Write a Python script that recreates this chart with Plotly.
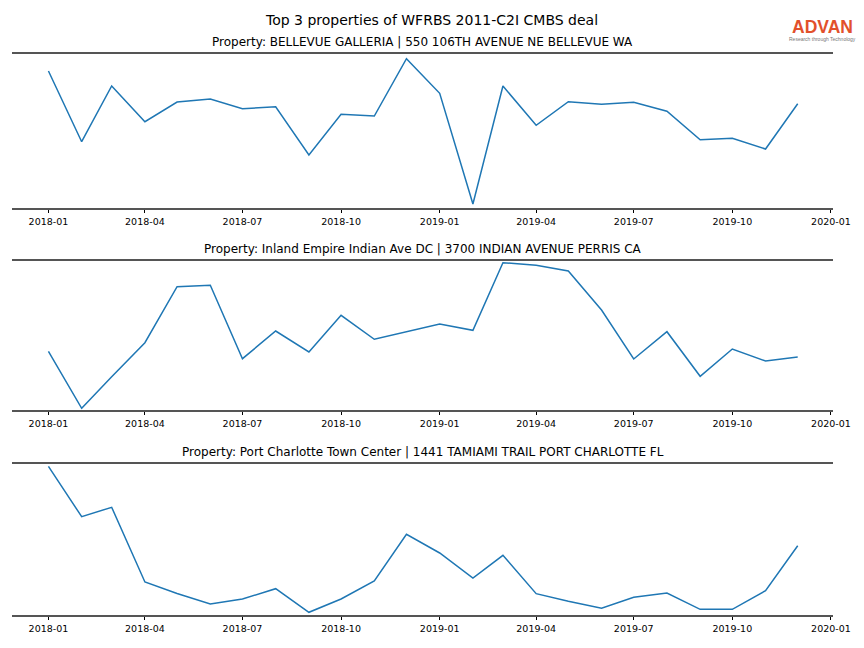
import plotly.graph_objects as go

months = ["2018-01-01", "2018-02-01", "2018-03-01", "2018-04-01", "2018-05-01", "2018-06-01",
          "2018-07-01", "2018-08-01", "2018-09-01", "2018-10-01", "2018-11-01", "2018-12-01",
          "2019-01-01", "2019-02-01", "2019-03-01", "2019-04-01", "2019-05-01", "2019-06-01",
          "2019-07-01", "2019-08-01", "2019-09-01", "2019-10-01", "2019-11-01", "2019-12-01"]

bellevue = [136.8, 66.1, 121.8, 86.1, 105.8, 108.8, 99.1, 101.1, 52.8, 93.5, 91.8, 149.1,
            114.5, 3.8, 121.8, 82.5, 106.1, 103.5, 105.5, 96.5, 68.1, 69.5, 58.8, 104.1]
inland = [58.4, 1.4, 33.0, 67.0, 123.0, 124.4, 51.0, 78.7, 57.7, 94.4, 70.4, 78.2,
          85.7, 79.4, 147.0, 144.4, 138.7, 99.7, 50.7, 78.0, 33.4, 60.7, 48.7, 52.7]
charlotte = [148.4, 98.0, 107.4, 32.7, 21.2, 10.7, 15.7, 26.0, 2.4, 15.7, 33.7, 80.4,
             61.7, 36.7, 59.4, 21.0, 13.4, 6.4, 17.4, 21.7, 5.4, 5.4, 24.0, 69.0]

titles = ["Property: BELLEVUE GALLERIA | 550 106TH AVENUE NE BELLEVUE WA",
          "Property: Inland Empire Indian Ave DC | 3700 INDIAN AVENUE PERRIS CA",
          "Property: Port Charlotte Town Center | 1441 TAMIAMI TRAIL PORT CHARLOTTE FL"]
main_title = "Top 3 properties of WFRBS 2011-C2I CMBS deal"
tick_vals = ["2018-01-01", "2018-04-01", "2018-07-01", "2018-10-01", "2019-01-01",
             "2019-04-01", "2019-07-01", "2019-10-01", "2020-01-01"]
tick_text = ["2018-01", "2018-04", "2018-07", "2018-10", "2019-01",
             "2019-04", "2019-07", "2019-10", "2020-01"]

series = [bellevue, inland, charlotte]
yranges = [[0, 153.8], [0, 149.0], [0, 151.0]]

OFF = 8
W, H = 880, 632
RW = 864  # rendered width


def px_x(x):
    return (x - OFF) / RW


def px_y(y):
    return (H - (y - OFF)) / H


boxes = [(54, 207.8), (260.7, 409.7), (463.7, 614.7)]
xl, xr = px_x(12), px_x(835)

fig = go.Figure()
font_family = "DejaVu Sans"
annotations = []
for i, (vals, (top, bot)) in enumerate(zip(series, boxes)):
    n = "" if i == 0 else str(i + 1)
    fig.add_trace(go.Scatter(x=months, y=vals, mode="lines",
                             line=dict(color="#1f77b4", width=1.5),
                             xaxis="x" + n, yaxis="y" + n, showlegend=False))
    fig.update_layout(**{
        "xaxis" + n: dict(domain=[xl, xr], anchor="y" + n, type="date",
                          range=["2017-11-28", "2020-01-03"],
                          tickvals=tick_vals, ticktext=tick_text,
                          ticks="outside", ticklen=3.5, tickwidth=0.8, tickcolor="#000",
                          showline=True, mirror=True, linecolor="#555555", linewidth=1.8,
                          showgrid=False, zeroline=False,
                          tickfont=dict(family=font_family, size=9.5, color="#000")),
        "yaxis" + n: dict(domain=[px_y(bot), px_y(top)], anchor="x" + n, range=yranges[i],
                          visible=False, showgrid=False, zeroline=False),
    })
    annotations.append(dict(text=titles[i], x=(xl + xr) / 2, y=px_y(top - 12),
                            xref="paper", yref="paper", xanchor="center", yanchor="middle",
                            showarrow=False,
                            font=dict(family=font_family, size=12, color="#000")))

annotations.append(dict(text=main_title, x=px_x(432), y=px_y(20), xref="paper", yref="paper",
                        xanchor="center", yanchor="middle", showarrow=False,
                        font=dict(family=font_family, size=14, color="#000")))
annotations.append(dict(text="<b>ADVAN</b>", x=px_x(824.5), y=px_y(26.5), xref="paper", yref="paper",
                        xanchor="center", yanchor="middle", showarrow=False,
                        font=dict(family="Liberation Sans", size=17.5, color="#E2502B")))
annotations.append(dict(text="Research through Technology", x=px_x(824.5), y=px_y(39),
                        xref="paper", yref="paper", xanchor="center", yanchor="middle",
                        showarrow=False,
                        font=dict(family="Liberation Sans", size=5, color="#777777")))

fig.update_layout(width=W, height=H, autosize=False, margin=dict(l=0, r=0, t=0, b=0),
                  paper_bgcolor="white", plot_bgcolor="white",
                  annotations=annotations, font=dict(family=font_family))
fig.write_html("out.html")
